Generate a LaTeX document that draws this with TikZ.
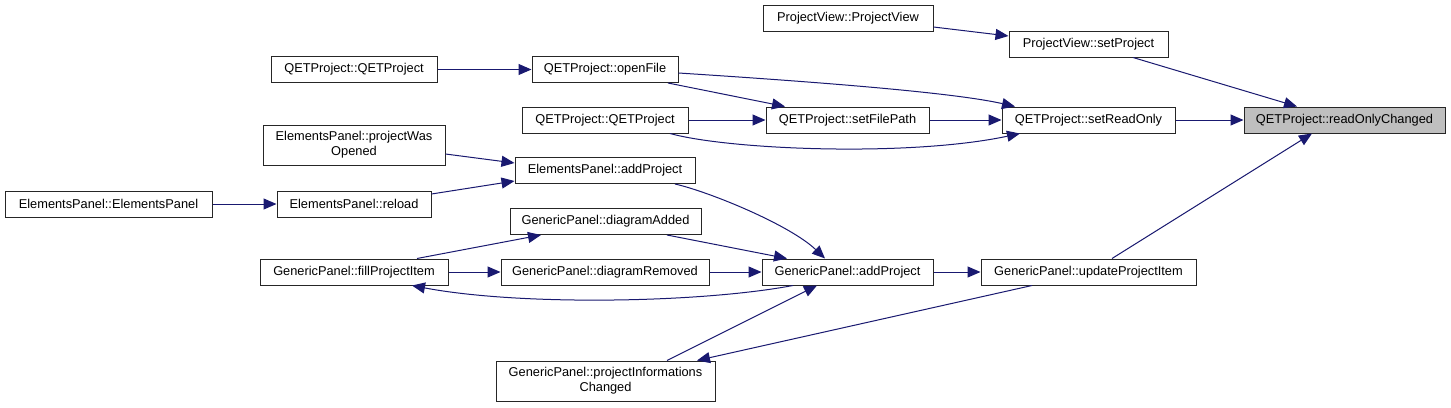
\documentclass[tikz,border=0pt]{standalone}
\usepackage{fontspec}
\setmainfont{Liberation Sans}
\usetikzlibrary{arrows.meta,calc}
\definecolor{edgeblue}{HTML}{191970}
\definecolor{hlgray}{HTML}{BFBFBF}
\begin{document}
\begin{tikzpicture}[x=1pt,y=-1pt,
  fn/.style={draw=black!85,line width=1pt,fill=white,inner sep=0pt,minimum height=26pt,align=center,
    font=\fontsize{12.8}{15}\selectfont},
  fn2/.style={fn,minimum height=40pt},
  hl/.style={fn,fill=hlgray},
  call/.style={draw=edgeblue,line width=1pt,-{Triangle[length=13pt,width=11pt]},color=edgeblue}]
\useasboundingbox (0,0) rectangle (1451,407);
\fill[white] (0,0) rectangle (1451,407);
% nodes
\node[fn,minimum width=170pt] (pvpv) at (848,18) {ProjectView::ProjectView};
\node[fn,minimum width=159pt] (pvsp) at (1088.5,44) {ProjectView::setProject};
\node[fn,minimum width=166pt] (qqA) at (354,69.5) {QETProject::QETProject};
\node[fn,minimum width=146pt] (of) at (605,69.5) {QETProject::openFile};
\node[fn,minimum width=166pt] (qqB) at (605,120) {QETProject::QETProject};
\node[fn,minimum width=163pt] (sfp) at (847.5,120) {QETProject::setFilePath};
\node[fn,minimum width=173pt] (sro) at (1088.5,120) {QETProject::setReadOnly};
\node[hl,minimum width=201pt] (roc) at (1344.5,120) {QETProject::readOnlyChanged};
\node[fn2,minimum width=182pt] (pwo) at (354,145) {ElementsPanel::projectWas\\Opened};
\node[fn,minimum width=180pt] (epap) at (605,170.5) {ElementsPanel::addProject};
\node[fn,minimum width=207pt] (epep) at (108.5,204) {ElementsPanel::ElementsPanel};
\node[fn,minimum width=154pt] (rel) at (354,204) {ElementsPanel::reload};
\node[fn,minimum width=191pt] (gda) at (605.5,221.5) {GenericPanel::diagramAdded};
\node[fn,minimum width=188pt] (fpi) at (354,272) {GenericPanel::fillProjectItem};
\node[fn,minimum width=208pt] (gdr) at (605,272) {GenericPanel::diagramRemoved};
\node[fn,minimum width=171pt] (gap) at (847.5,272) {GenericPanel::addProject};
\node[fn,minimum width=215pt] (upi) at (1088.5,272) {GenericPanel::updateProjectItem};
\node[fn2,minimum width=219pt] (pic) at (605.5,381) {GenericPanel::projectInformations\\Changed};
% edges
\draw[call] ($(pvpv.east)+(0,9)$) -- ($(pvsp.west)+(0,-8)$);
\draw[call] ($(pvsp.south)+(44.5,0)$) -- ($(roc.north)+(-47.5,0)$);
\draw[call] (qqA.east) -- (of.west);
\draw[call] ($(of.east)+(0,3.5)$) .. controls (850,84) and (960,94) .. ($(sro.north)+(-73.5,0)$);
\draw[call] ($(of.south)+(63,0)$) -- ($(sfp.north)+(-62.5,0)$);
\draw[call] (qqB.east) -- (sfp.west);
\draw[call] ($(qqB.south)+(65,0)$) .. controls (730,150) and (910,157) .. ($(sro.south)+(-68.5,0)$);
\draw[call] (sfp.east) -- (sro.west);
\draw[call] (sro.east) -- (roc.west);
\draw[call] ($(pwo.east)+(0,9)$) -- ($(epap.west)+(0,-7.5)$);
\draw[call] ($(rel.east)+(0,-10)$) -- ($(epap.west)+(0,10.5)$);
\draw[call] (epep.east) -- (rel.west);
\draw[call] ($(epap.south)+(70,0)$) .. controls (710,192) and (790,225) .. ($(gap.north)+(-22.5,0)$);
\draw[call] ($(fpi.north)+(63,0)$) -- ($(gda.south)+(-64.5,0)$);
\draw[call] ($(gda.south)+(61.5,0)$) -- ($(gap.north)+(-60.5,0)$);
\draw[call] (fpi.east) -- (gdr.west);
\draw[call] (gdr.east) -- (gap.west);
\draw[call] ($(gap.south)+(-54.5,0)$) .. controls (700,303) and (520,306) .. ($(fpi.south)+(58,0)$);
\draw[call] ($(pic.north)+(61.5,0)$) -- ($(gap.south)+(-30.5,0)$);
\draw[call] (gap.east) -- (upi.west);
\draw[call] ($(upi.north)+(23.5,0)$) -- ($(roc.south)+(-32.5,0)$);
\draw[call] ($(upi.south)+(-56.5,0)$) -- ($(pic.north)+(91.5,0)$);
\end{tikzpicture}
\end{document}
